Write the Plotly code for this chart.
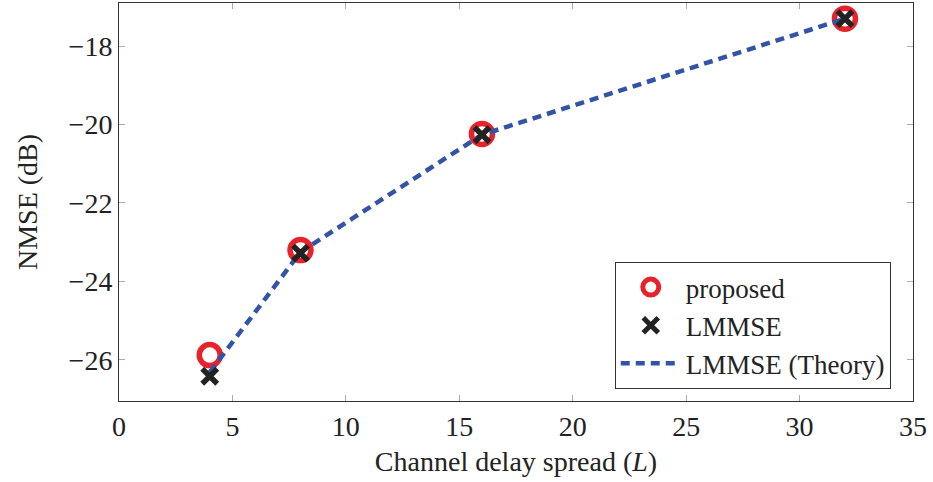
import plotly.graph_objects as go

L_values = [4, 8, 16, 32]
proposed = [-25.88, -23.2, -20.24, -17.3]
lmmse = [-26.42, -23.28, -20.26, -17.3]
lmmse_theory = [-26.32, -23.25, -20.26, -17.3]

x_ticks = [0, 5, 10, 15, 20, 25, 30, 35]
y_ticks = [-26, -24, -22, -20, -18]
y_tick_text = ["\u221226", "\u221224", "\u221222", "\u221220", "\u221218"]

font_family = "'Liberation Serif', 'DejaVu Serif', serif"
FS = 28

fig = go.Figure()
fig.add_trace(go.Scatter(
    x=L_values, y=proposed, mode="markers", name="proposed", legendrank=1,
    marker=dict(symbol="circle-open", size=21, color="#e8222b", line=dict(width=5.5, color="#e8222b")),
))
fig.add_trace(go.Scatter(
    x=L_values, y=lmmse_theory, mode="lines", name="LMMSE (Theory)", legendrank=3,
    line=dict(color="#3353a6", width=4.5, dash="9px,6px"),
))
fig.add_trace(go.Scatter(
    x=L_values, y=lmmse, mode="markers", name="LMMSE", legendrank=2,
    marker=dict(symbol="x-thin-open", size=15, color="#222222", line=dict(width=5.5, color="#222222")),
))

axis_common = dict(
    showline=True, linecolor="#333333", linewidth=1, mirror="ticks",
    ticks="inside", ticklen=6, tickcolor="#aaaaaa", tickwidth=1.2,
    showgrid=False, zeroline=False,
    tickfont=dict(family=font_family, size=FS, color="#222222"),
    title_font=dict(family=font_family, size=FS, color="#222222"),
)

fig.update_xaxes(range=[0, 35], tickvals=x_ticks, title_text="Channel delay spread (<i>L</i>)",
                 title_standoff=10, **axis_common)
fig.update_yaxes(range=[-27.05, -16.9], tickvals=y_ticks, ticktext=y_tick_text,
                 title_text="NMSE (dB)", title_standoff=22, **axis_common)

fig.update_layout(
    width=933, height=482,
    margin=dict(l=119, r=20, t=3, b=81),
    paper_bgcolor="white", plot_bgcolor="white",
    font=dict(family=font_family, size=FS, color="#222222"),
    legend=dict(x=0.972, y=0.03, xanchor="right", yanchor="bottom",
                bordercolor="#333333", borderwidth=1, bgcolor="white",
                font=dict(family=font_family, size=27, color="#222222"),
                itemwidth=60, tracegroupgap=0),
    showlegend=True,
)

fig.write_html("out.html")
